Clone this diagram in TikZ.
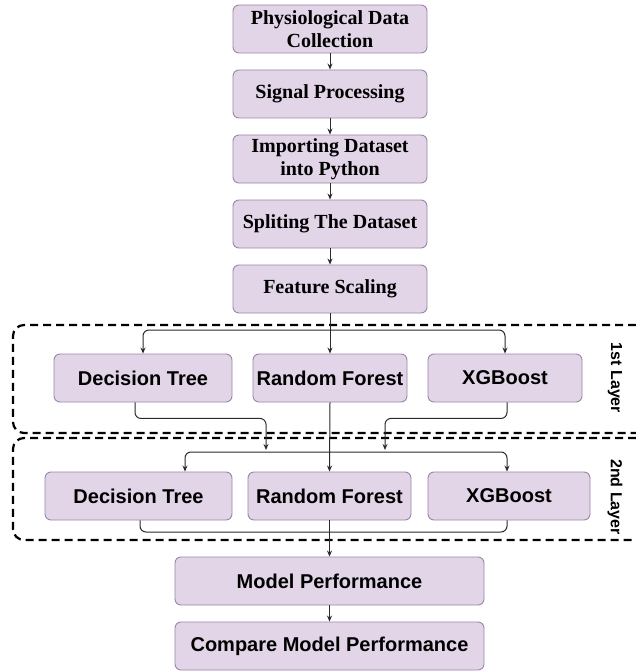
\documentclass[tikz,border=0pt]{standalone}
\usepackage{fontspec}
\setmainfont{Liberation Serif}
\newfontfamily\arialfont{Liberation Sans}
\usetikzlibrary{arrows.meta}
\definecolor{boxfill}{HTML}{E1D5E7}
\definecolor{boxline}{HTML}{9A86A8}
\definecolor{connc}{HTML}{2B2B2B}
\tikzset{
  procbox/.style={draw=boxline, fill=boxfill, line width=0.9pt, rounded corners=6pt,
    inner sep=0pt, align=center, minimum height=48pt},
  serifbox/.style={procbox, minimum width=194pt, font=\fontsize{20}{23}\selectfont\bfseries},
  sansbox/.style={procbox, font=\arialfont\fontsize{20}{24}\selectfont\bfseries},
  conn/.style={draw=connc, line width=1pt, rounded corners=6pt},
  arr/.style={conn, -{Stealth[length=6pt,width=5pt]}},
  dashbox/.style={draw=black, line width=2.2pt, dash pattern=on 8pt off 5pt, rounded corners=11pt},
  layerlabel/.style={rotate=-90, font=\arialfont\fontsize{16}{19}\selectfont\bfseries, inner sep=0pt}
}
\begin{document}
\begin{tikzpicture}[x=1pt, y=-1pt]
\useasboundingbox (0,0) rectangle (636,671);
\fill[white] (0,0) rectangle (636,671);

% dashed layer frames
\draw[dashbox] (636,325) -- (13,325) -- (13,433) -- (636,433);
\draw[dashbox] (636,438) -- (13,438) -- (13,540) -- (636,540);
\node[layerlabel] (lab1) at (615,378) {1st Layer};
\node[layerlabel] (lab2) at (615,497) {2nd Layer};

% top chain
\node[serifbox] (pdc) at (330,29) {Physiological Data\\Collection};
\node[serifbox] (sp)  at (330,94) {Signal Processing};
\node[serifbox] (imp) at (330,159) {Importing Dataset\\into Python};
\node[serifbox] (spl) at (330,224) {Spliting The Dataset};
\node[serifbox] (fs)  at (330,289) {Feature Scaling};

% layer 1
\node[sansbox, minimum width=178pt] (dt1) at (143,378) {Decision Tree};
\node[sansbox, minimum width=154pt] (rf1) at (330,378) {Random Forest};
\node[sansbox, minimum width=154pt] (xg1) at (505,378) {XGBoost};

% layer 2
\node[sansbox, minimum width=187pt] (dt2) at (138.5,496) {Decision Tree};
\node[sansbox, minimum width=163pt] (rf2) at (329.5,496) {Random Forest};
\node[sansbox, minimum width=162pt] (xg2) at (509,496) {XGBoost};

% bottom
\node[sansbox, minimum width=309pt] (mp)  at (329.5,581) {Model Performance};
\node[sansbox, minimum width=309pt] (cmp) at (329.5,646) {Compare Model Performance};

% helper coordinates
\coordinate (h1) at (330,330);
\coordinate (j1) at (266,450);
\coordinate (j3) at (385,450);
\coordinate (h2) at (330,452);
\coordinate (b2) at (330,532);

% top chain arrows
\draw[arr] (pdc) -- (sp);
\draw[arr] (sp) -- (imp);
\draw[arr] (imp) -- (spl);
\draw[arr] (spl) -- (fs);

% distribution to layer 1
\draw[arr] (fs.south) -- (rf1.north);
\draw[arr] (h1) -| (dt1.north);
\draw[arr] (h1) -| (xg1.north);

% layer 1 outputs
\draw[arr] ([xshift=-8pt]dt1.south) -- ++(0,16) -| (j1);
\draw[arr] ([xshift=2pt]xg1.south) -- ++(0,16) -| (j3);
\draw[arr] (rf1.south) -- (rf2.north);

% distribution to layer 2
\draw[arr] (h2) -| ([xshift=46.5pt]dt2.north);
\draw[arr] (h2) -| ([xshift=-2pt]xg2.north);

% layer 2 outputs
\draw[conn] ([xshift=1.5pt]dt2.south) |- (b2) -| ([xshift=-2pt]xg2.south);
\draw[arr] (rf2.south) -- (mp.north);
\draw[arr] (mp) -- (cmp);
\end{tikzpicture}
\end{document}
